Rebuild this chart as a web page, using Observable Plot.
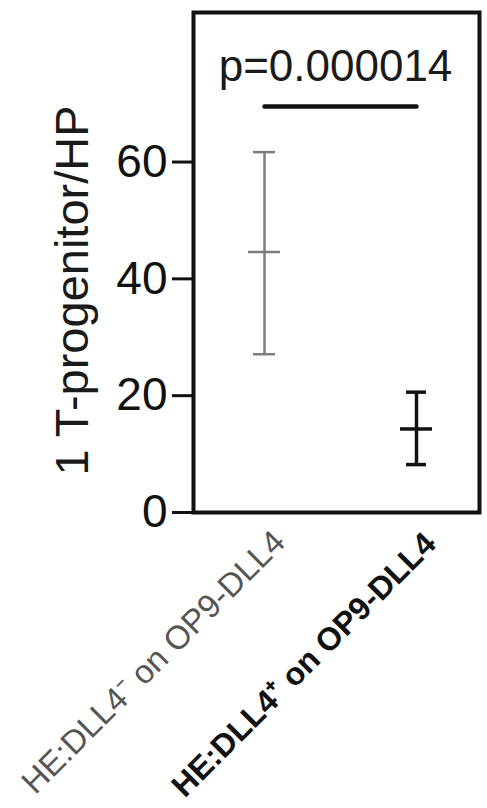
<!DOCTYPE html>
<html>
<head>
<meta charset="utf-8">
<script src="https://cdn.jsdelivr.net/npm/d3@7"></script>
<script src="https://cdn.jsdelivr.net/npm/@observablehq/plot@0.6"></script>
<style>
  html, body { margin: 0; padding: 0; background: #fff; }
  #chart svg { display: block; }
</style>
</head>
<body>
<div id="chart"></div>
<script>
// ---- data ----
const categories = ["HE:DLL4\u207B on OP9-DLL4", "HE:DLL4\u207A on OP9-DLL4"];
const means = [44.6, 14.3];
const lows  = [27.1, 8.2];
const highs = [61.7, 20.6];
const yTicks = [0, 20, 40, 60];
const yLabel = "1 T-progenitor/HP";
const pLabel = "p=0.000014";
const sigLevel = 69.5;

const rows = categories.map((c, i) => ({cat: c, mean: means[i], low: lows[i], high: highs[i]}));
const sigRows = [categories[0], categories[1]].map(c => ({cat: c, y: sigLevel}));

const font = "Liberation Sans, Arial, Helvetica, sans-serif";
const styles = [
  {stroke: "#7d7d7d", strokeWidth: 2.5, capInset: 5},
  {stroke: "#111",    strokeWidth: 3.5, capInset: 6}
];

const errorMarks = styles.flatMap((s, i) => {
  const f = (d, j) => j === i;
  return [
    Plot.ruleX(rows, {filter: f, x: "cat", y1: "low", y2: "high", stroke: s.stroke, strokeWidth: s.strokeWidth}),
    Plot.tickY(rows, {filter: f, x: "cat", y: "high", stroke: s.stroke, strokeWidth: s.strokeWidth, insetLeft: s.capInset, insetRight: s.capInset}),
    Plot.tickY(rows, {filter: f, x: "cat", y: "low", stroke: s.stroke, strokeWidth: s.strokeWidth, insetLeft: s.capInset, insetRight: s.capInset}),
    Plot.tickY(rows, {filter: f, x: "cat", y: "mean", stroke: s.stroke, strokeWidth: s.strokeWidth})
  ];
});

const chart = Plot.plot({
  width: 487,
  height: 808,
  marginTop: 12,
  marginBottom: 296,
  marginLeft: 193,
  marginRight: 8,
  style: {fontFamily: font, background: "#fff", color: "#111", overflow: "visible"},
  x: {type: "band", domain: categories, paddingInner: 0.79, paddingOuter: 0.33, align: 0.535, axis: null},
  y: {domain: [0, 85.6]},
  marks: [
    Plot.frame({stroke: "#111", strokeWidth: 4}),
    Plot.axisY({ticks: yTicks, tickSize: 21, tickPadding: 5, fontSize: 46, strokeWidth: 3, stroke: "#111", fill: "#111", label: null}),
    ...errorMarks,
    Plot.line(sigRows, {x: "cat", y: "y", stroke: "#111", strokeWidth: 4.5}),
    Plot.text([pLabel], {frameAnchor: "top", lineAnchor: "top", dy: 37, dx: -1, fontSize: 44, fill: "#1a1a1a"}),
    Plot.text([yLabel], {frameAnchor: "left", textAnchor: "middle", lineAnchor: "middle", rotate: -90, dx: -121, dy: 28, fontSize: 47, fill: "#1a1a1a"}),
    Plot.text([categories[0]], {x: d => d, frameAnchor: "bottom", rotate: -45, textAnchor: "end", lineAnchor: "middle", dx: 15, dy: 24, fontSize: 33, fill: "#555"}),
    Plot.text([categories[1]], {x: d => d, frameAnchor: "bottom", rotate: -45, textAnchor: "end", lineAnchor: "middle", dx: 14, dy: 26, fontSize: 32, fontWeight: "bold", fill: "#111"})
  ]
});

document.getElementById("chart").appendChild(chart);
</script>
</body>
</html>
